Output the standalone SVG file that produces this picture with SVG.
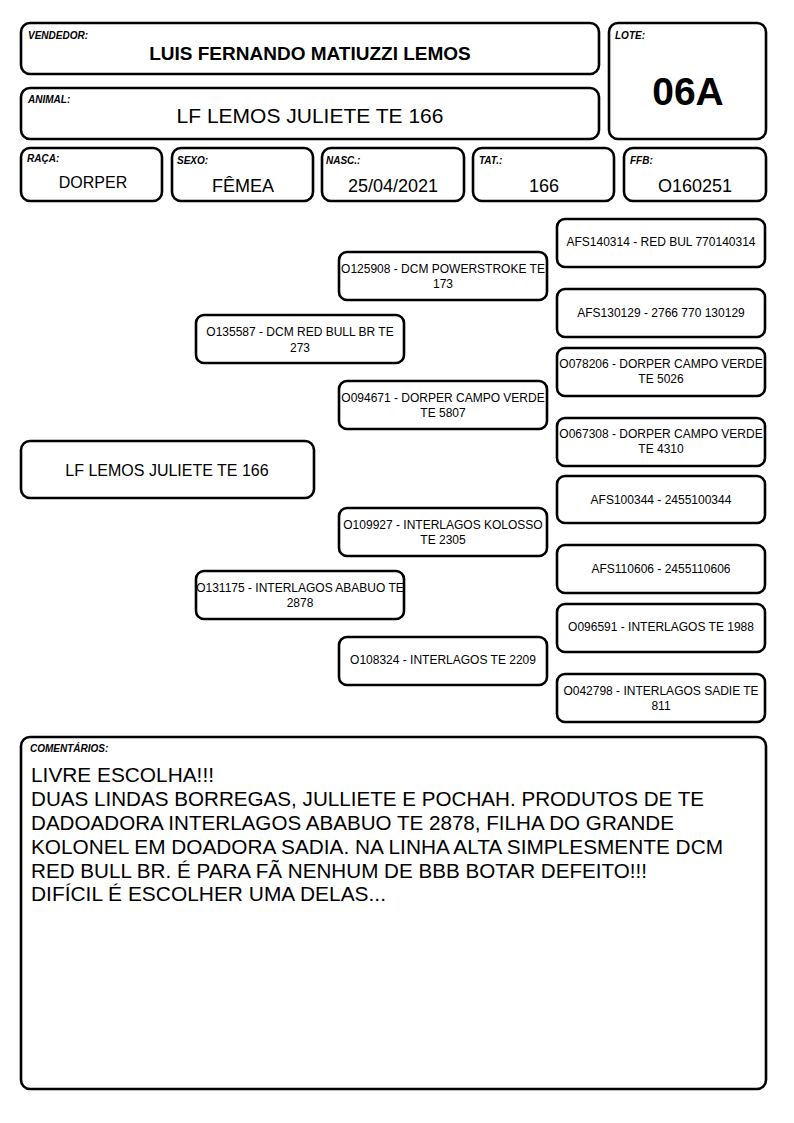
<svg xmlns="http://www.w3.org/2000/svg" width="794" height="1123" viewBox="0 0 794 1123">
<style>
.b{fill:#fff;stroke:#000;stroke-width:2.6}
.l{font-family:"Liberation Sans",Arial,sans-serif;font-size:10px;font-weight:bold;font-style:italic;fill:#000}
.t{font-family:"Liberation Sans",Arial,sans-serif;fill:#000;text-anchor:middle}
.p{font-family:"Liberation Sans",Arial,sans-serif;font-size:12px;fill:#000;text-anchor:middle}
.c{font-family:"Liberation Sans",Arial,sans-serif;font-size:20px;fill:#000}
</style>
<rect width="794" height="1123" fill="#fff"/>
<g id="vendedor"><rect class="b" x="21" y="23" width="578" height="51" rx="9"/><text class="l" x="28" y="39">VENDEDOR:</text><text class="t" x="310" y="60" font-size="19" font-weight="bold">LUIS FERNANDO MATIUZZI LEMOS</text></g>
<g id="animal"><rect class="b" x="21" y="88" width="578" height="51" rx="9"/><text class="l" x="28" y="103">ANIMAL:</text><text class="t" x="310" y="123" font-size="21">LF LEMOS JULIETE TE 166</text></g>
<g id="lote"><rect class="b" x="609" y="23" width="157" height="116" rx="9"/><text class="l" x="615" y="39">LOTE:</text><text class="t" x="688" y="105" font-size="39" font-weight="bold">06A</text></g>
<g id="raca"><rect class="b" x="21" y="148" width="141" height="53" rx="9"/><text class="l" x="27" y="162">RAÇA:</text><text class="t" x="93" y="188" font-size="16">DORPER</text></g>
<g id="sexo"><rect class="b" x="172" y="148" width="141" height="53" rx="9"/><text class="l" x="177" y="164">SEXO:</text><text class="t" x="243" y="192" font-size="18">FÊMEA</text></g>
<g id="nasc"><rect class="b" x="322" y="148" width="142" height="53" rx="9"/><text class="l" x="326" y="164">NASC.:</text><text class="t" x="393" y="192" font-size="18">25/04/2021</text></g>
<g id="tat"><rect class="b" x="473" y="148" width="141" height="53" rx="9"/><text class="l" x="479" y="164">TAT.:</text><text class="t" x="544" y="192" font-size="18">166</text></g>
<g id="ffb"><rect class="b" x="624" y="148" width="142" height="53" rx="9"/><text class="l" x="630" y="164">FFB:</text><text class="t" x="695" y="192" font-size="18">O160251</text></g>
<g id="connectors"></g>
<g id="n0"><rect class="b" x="21" y="441" width="293" height="57" rx="9"/><text class="t" x="167" y="476" font-size="16">LF LEMOS JULIETE TE 166</text></g>
<g id="n1"><rect class="b" x="196" y="315" width="208" height="48" rx="8"/><text class="p" x="300" y="336">O135587 - DCM RED BULL BR TE</text><text class="p" x="300" y="352">273</text></g>
<g id="n2"><rect class="b" x="196" y="571" width="208" height="48" rx="8"/><text class="p" x="300" y="592">O131175 - INTERLAGOS ABABUO TE</text><text class="p" x="300" y="607">2878</text></g>
<g id="n3"><rect class="b" x="339" y="252" width="208" height="48" rx="8"/><text class="p" x="443" y="273">O125908 - DCM POWERSTROKE TE</text><text class="p" x="443" y="288">173</text></g>
<g id="n4"><rect class="b" x="339" y="381" width="208" height="48" rx="8"/><text class="p" x="443" y="402">O094671 - DORPER CAMPO VERDE</text><text class="p" x="443" y="417">TE 5807</text></g>
<g id="n5"><rect class="b" x="339" y="508" width="208" height="48" rx="8"/><text class="p" x="443" y="529">O109927 - INTERLAGOS KOLOSSO</text><text class="p" x="443" y="544">TE 2305</text></g>
<g id="n6"><rect class="b" x="339" y="637" width="208" height="48" rx="8"/><text class="p" x="443" y="664">O108324 - INTERLAGOS TE 2209</text></g>
<g id="n7"><rect class="b" x="557" y="219" width="208" height="48" rx="8"/><text class="p" x="661" y="246">AFS140314 - RED BUL 770140314</text></g>
<g id="n8"><rect class="b" x="557" y="289" width="208" height="48" rx="8"/><text class="p" x="661" y="317">AFS130129 - 2766 770 130129</text></g>
<g id="n9"><rect class="b" x="557" y="348" width="208" height="48" rx="8"/><text class="p" x="661" y="368">O078206 - DORPER CAMPO VERDE</text><text class="p" x="661" y="383">TE 5026</text></g>
<g id="n10"><rect class="b" x="557" y="418" width="208" height="48" rx="8"/><text class="p" x="661" y="438">O067308 - DORPER CAMPO VERDE</text><text class="p" x="661" y="453">TE 4310</text></g>
<g id="n11"><rect class="b" x="557" y="476" width="208" height="47" rx="8"/><text class="p" x="661" y="504">AFS100344 - 2455100344</text></g>
<g id="n12"><rect class="b" x="557" y="545" width="208" height="48" rx="8"/><text class="p" x="661" y="573">AFS110606 - 2455110606</text></g>
<g id="n13"><rect class="b" x="557" y="604" width="208" height="48" rx="8"/><text class="p" x="661" y="631">O096591 - INTERLAGOS TE 1988</text></g>
<g id="n14"><rect class="b" x="557" y="674" width="208" height="48" rx="8"/><text class="p" x="661" y="695">O042798 - INTERLAGOS SADIE TE</text><text class="p" x="661" y="710">811</text></g>
<g id="comentarios"><rect class="b" x="21" y="737" width="745" height="352" rx="9"/><text class="l" x="30" y="752">COMENTÁRIOS:</text>
<text class="c" x="31" y="782" textLength="183" lengthAdjust="spacingAndGlyphs">LIVRE ESCOLHA!!!</text>
<text class="c" x="31" y="806" textLength="673" lengthAdjust="spacingAndGlyphs">DUAS LINDAS BORREGAS, JULLIETE E POCHAH. PRODUTOS DE TE</text>
<text class="c" x="31" y="830" textLength="643" lengthAdjust="spacingAndGlyphs">DADOADORA INTERLAGOS ABABUO TE 2878, FILHA DO GRANDE</text>
<text class="c" x="31" y="854" textLength="692" lengthAdjust="spacingAndGlyphs">KOLONEL EM DOADORA SADIA. NA LINHA ALTA SIMPLESMENTE DCM</text>
<text class="c" x="31" y="878" textLength="616" lengthAdjust="spacingAndGlyphs">RED BULL BR. É PARA FÃ NENHUM DE BBB BOTAR DEFEITO!!!</text>
<text class="c" x="31" y="901" textLength="355" lengthAdjust="spacingAndGlyphs">DIFÍCIL É ESCOLHER UMA DELAS...</text>
</g>
</svg>
